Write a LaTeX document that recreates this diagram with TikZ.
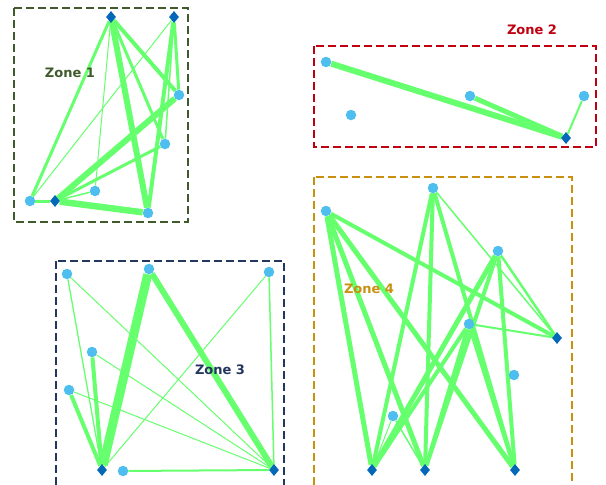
\documentclass[tikz,border=0pt]{standalone}
\usepackage{fontspec}
\setsansfont{DejaVu Sans}
\usetikzlibrary{
    shapes.geometric,
    backgrounds
}
\definecolor{linkgreen}{HTML}{66FF6E}
\definecolor{sitecyan}{HTML}{4DBEEE}
\definecolor{hubblue}{HTML}{0468B8}
\definecolor{zoneone}{HTML}{3F5A2C}
\definecolor{zonetwo}{HTML}{C00010}
\definecolor{zonethree}{HTML}{23365E}
\definecolor{zonefour}{HTML}{C8900E}

\begin{document}
\begin{tikzpicture}[x=1pt, y=-1pt,
    site/.style={circle, fill=sitecyan, inner sep=0pt, minimum size=10.5pt},
    hub/.style={diamond, fill=hubblue, inner sep=0pt, minimum width=10pt, minimum height=12pt},
    lnk/.style={draw=linkgreen, line width=#1},
    zone/.style={draw=#1, line width=1.4pt, dash pattern=on 8pt off 4pt},
    zlabel/.style={font=\sffamily\bfseries\fontsize{13}{15}\selectfont}
]
                        \useasboundingbox (0, 0) rectangle (606, 485);

                        % zone 1
                        \node[hub] (a1) at (111, 17) {};
                        \node[hub] (b1) at (174, 17) {};
                        \node[hub] (c1) at (55, 201) {};
                        \node[site] (p1) at (179, 95) {};
                        \node[site] (q1) at (165, 144) {};
                        \node[site] (r1) at (95, 191) {};
                        \node[site] (s1) at (30, 201) {};
                        \node[site] (t1) at (148, 213) {};
                        \node[zlabel, zoneone] (z1) at (70, 73) {Zone 1};

                        % zone 2
                        \node[hub] (a2) at (566, 138) {};
                        \node[site] (p2) at (326, 62) {};
                        \node[site] (q2) at (351, 115) {};
                        \node[site] (r2) at (470, 96) {};
                        \node[site] (s2) at (584, 96) {};
                        \node[zlabel, zonetwo] (z2) at (532, 30) {Zone 2};

                        % zone 3
                        \node[hub] (a3) at (102, 470) {};
                        \node[hub] (b3) at (274, 470) {};
                        \node[site] (p3) at (67, 274) {};
                        \node[site] (q3) at (149, 269) {};
                        \node[site] (r3) at (269, 272) {};
                        \node[site] (s3) at (92, 352) {};
                        \node[site] (t3) at (69, 390) {};
                        \node[site] (u3) at (123, 471) {};
                        \node[zlabel, zonethree] (z3) at (220, 370) {Zone 3};

                        % zone 4
                        \node[hub] (a4) at (372, 470) {};
                        \node[hub] (b4) at (425, 470) {};
                        \node[hub] (c4) at (515, 470) {};
                        \node[hub] (d4) at (557, 338) {};
                        \node[site] (p4) at (326, 211) {};
                        \node[site] (q4) at (433, 188) {};
                        \node[site] (r4) at (498, 251) {};
                        \node[site] (s4) at (469, 324) {};
                        \node[site] (t4) at (514, 375) {};
                        \node[site] (u4) at (393, 416) {};
                        \node[zlabel, zonefour] (z4) at (369, 289) {Zone 4};

                        \begin{pgfonlayer}{background}
                        \draw[zone=zoneone] (14, 8) rectangle (188, 222);
                        \draw[zone=zonetwo] (314, 46) rectangle (596, 147);
                        \draw[zone=zonethree] (56, 261) rectangle (284, 500);
                        \draw[zone=zonefour] (314, 177) rectangle (572, 500);

                        \draw
                        (a1) edge[lnk=3] (s1)
                        (a1) edge[lnk=1] (r1)
                        (a1) edge[lnk=6] (t1)
                        (a1) edge[lnk=4] (p1)
                        (a1) edge[lnk=3] (q1)
                        (b1) edge[lnk=1] (s1)
                        (b1) edge[lnk=4] (t1)
                        (b1) edge[lnk=3] (p1)
                        (b1) edge[lnk=1.5] (q1)
                        (c1) edge[lnk=6] (p1)
                        (c1) edge[lnk=3] (q1)
                        (c1) edge[lnk=1.5] (r1)
                        (c1) edge[lnk=6.5] (t1)
                        (c1) edge[lnk=3] (s1);

                        \draw
                        (a2) edge[lnk=6] (p2)
                        (a2) edge[lnk=5] (r2)
                        (a2) edge[lnk=2] (s2);

                        \draw
                        (a3) edge[lnk=1.3] (p3)
                        (a3) edge[lnk=4] (s3)
                        (a3) edge[lnk=4] (t3)
                        (a3) edge[lnk=9] (q3)
                        (a3) edge[lnk=1] (r3)
                        (b3) edge[lnk=2] (u3)
                        (b3) edge[lnk=6] (q3)
                        (b3) edge[lnk=1] (p3)
                        (b3) edge[lnk=1] (s3)
                        (b3) edge[lnk=1] (t3)
                        (b3) edge[lnk=1.5] (r3);

                        \draw
                        (a4) edge[lnk=5] (p4)
                        (a4) edge[lnk=4] (q4)
                        (a4) edge[lnk=5] (r4)
                        (a4) edge[lnk=4] (s4)
                        (a4) edge[lnk=1] (u4)
                        (b4) edge[lnk=5] (p4)
                        (b4) edge[lnk=4] (q4)
                        (b4) edge[lnk=4] (r4)
                        (b4) edge[lnk=4] (s4)
                        (b4) edge[lnk=1.5] (u4)
                        (c4) edge[lnk=5] (p4)
                        (c4) edge[lnk=4] (q4)
                        (c4) edge[lnk=4] (r4)
                        (c4) edge[lnk=4] (s4)
                        (d4) edge[lnk=4] (p4)
                        (d4) edge[lnk=1.5] (q4)
                        (d4) edge[lnk=2.5] (r4)
                        (d4) edge[lnk=2] (s4);
                        \end{pgfonlayer}
                    \end{tikzpicture}
\end{document}
